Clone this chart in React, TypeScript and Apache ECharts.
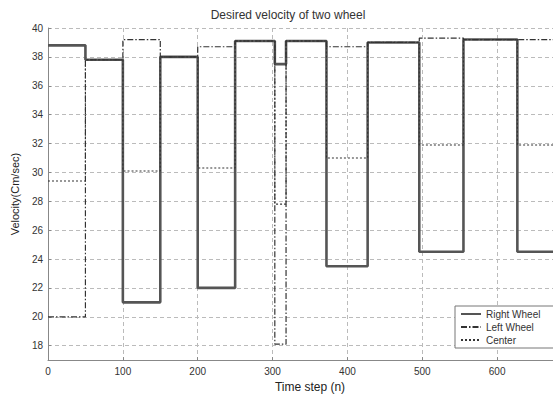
import React, { useEffect, useRef } from "react";
import * as echarts from "echarts";

const seriesNames = ["Right Wheel", "Left Wheel", "Center"];
const stepTimes = [0, 50, 100, 150, 200, 250, 303, 318, 372, 427, 496, 555, 627, 700];
const rightWheel = [38.8, 37.8, 21, 38, 22, 39.1, 37.5, 39.1, 23.5, 39.0, 24.5, 39.2, 24.5];
const leftWheel = [20, 37.8, 39.2, 38, 38.7, 39.1, 18.1, 39.1, 38.7, 39.0, 39.3, 39.2, 39.2];
const center = [29.4, 37.8, 30.1, 38, 30.3, 39.1, 27.8, 39.1, 31.0, 39.0, 31.9, 39.2, 31.9];
const yTicks = [18, 20, 22, 24, 26, 28, 30, 32, 34, 36, 38, 40];

function toSteps(vals: number[]) {
  const pts: number[][] = vals.map((v, i) => [stepTimes[i], v]);
  pts.push([stepTimes[stepTimes.length - 1], vals[vals.length - 1]]);
  return pts;
}

export default function App() {
  const ref = useRef<HTMLDivElement>(null);
  useEffect(() => {
    if (!ref.current) return;
    const chart = echarts.init(ref.current, undefined, { renderer: "svg" });
    const font = "'Liberation Sans', Arial, sans-serif";
    chart.setOption({
      animation: false,
      backgroundColor: "#fff",
      textStyle: { fontFamily: font },
      title: {
        text: "Desired velocity of two wheel",
        left: 283,
        textAlign: "center",
        top: 4,
        textStyle: { fontSize: 12, fontWeight: "normal", color: "#333", fontFamily: font },
      },
      grid: { left: 48, top: 28, right: 2, bottom: 36 },
      legend: {
        data: seriesNames,
        orient: "vertical",
        left: 455,
        top: 306,
        itemWidth: 20,
        itemHeight: 8,
        itemGap: 3,
        padding: [3, 40, 3, 5],
        borderColor: "#777",
        borderWidth: 1,
        backgroundColor: "#fff",
        itemStyle: { opacity: 0 },
        textStyle: { fontSize: 10, color: "#333", fontFamily: font },
      },
      xAxis: {
        type: "value",
        min: 0,
        max: 700,
        interval: 100,
        name: "Time step (n)",
        nameLocation: "middle",
        nameGap: 18,
        nameTextStyle: { fontSize: 12, color: "#222", fontFamily: font },
        axisLine: { show: true, lineStyle: { color: "#888", width: 1 } },
        axisTick: { show: true, inside: true, length: 3, lineStyle: { color: "#888" } },
        axisLabel: { fontSize: 10, color: "#333", margin: 6, fontFamily: font, showMaxLabel: false },
        splitLine: { show: true, lineStyle: { color: "#bbb", type: [4, 3], width: 1 } },
      },
      yAxis: {
        type: "value",
        min: 17,
        max: 40,
        name: "Velocity(Cm/sec)",
        nameLocation: "middle",
        nameGap: 28,
        nameTextStyle: { fontSize: 11, color: "#222", fontFamily: font },
        axisLine: { show: true, lineStyle: { color: "#888", width: 1 } },
        axisTick: { show: true, inside: true, length: 3, lineStyle: { color: "#888" }, customValues: yTicks },
        axisLabel: { fontSize: 10, color: "#333", margin: 5, fontFamily: font, customValues: yTicks },
        splitLine: { show: true, lineStyle: { color: "#bbb", type: [4, 3], width: 1 } },
      },
      series: [
        {
          name: seriesNames[0],
          type: "line",
          step: "end",
          symbol: "none",
          data: toSteps(rightWheel),
          lineStyle: { color: "#555", width: 2.6 },
          itemStyle: { color: "#555" },
        },
        {
          name: seriesNames[1],
          type: "line",
          step: "end",
          symbol: "none",
          data: toSteps(leftWheel),
          lineStyle: { color: "#333", width: 1.2, type: [6, 2, 1.5, 2] },
          itemStyle: { color: "#333" },
        },
        {
          name: seriesNames[2],
          type: "line",
          step: "end",
          symbol: "none",
          data: toSteps(center),
          lineStyle: { color: "#333", width: 1.1, type: [2, 2] },
          itemStyle: { color: "#333" },
        },
      ],
    });
    return () => chart.dispose();
  }, []);
  return (
    <div style={{ position: "absolute", left: 0, top: 0, width: 553, height: 398, overflow: "hidden" }}>
      <div ref={ref} style={{ width: 574, height: 398 }} />
    </div>
  );
}
